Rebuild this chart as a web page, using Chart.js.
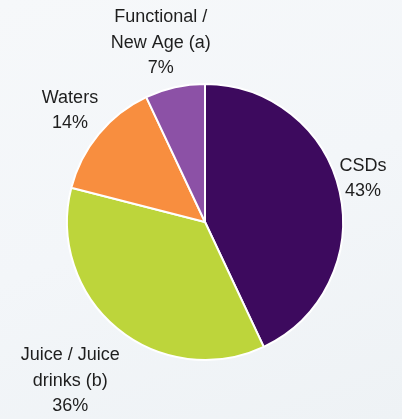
<!DOCTYPE html>
<html>
<head>
<meta charset="utf-8">
<script src="https://cdn.jsdelivr.net/npm/chart.js@4/dist/chart.umd.min.js"></script>
<style>
  html, body { margin: 0; padding: 0; }
  body {
    width: 402px; height: 419px; overflow: hidden;
    background: linear-gradient(160deg, #f6f8fa 0%, #f3f6f9 50%, #eef2f5 100%);
  }
  #wrap { position: relative; width: 402px; height: 419px; }
</style>
</head>
<body>
<div id="wrap"><canvas id="pie" width="402" height="419"></canvas></div>
<script>
// segment data, clockwise from 12 o'clock
const categories = ['CSDs', 'Juice / Juice drinks (b)', 'Waters', 'Functional / New Age (a)'];
const labelLines = [['CSDs'], ['Juice / Juice', 'drinks (b)'], ['Waters'], ['Functional /', 'New Age (a)']];
const shares = [43, 36, 14, 7];
const colors = ['#3d0a5e', '#bdd53b', '#f88e3f', '#8c51a6'];

// label placement: radial factor + small nudge
const labelRadius = [1.18, 1.51, 1.27, 1.34];
const labelNudge = [[-1, -8], [-2, -2], [0, 0], [-4, 1]];

const outsideLabels = {
  id: 'outsideLabels',
  afterDatasetsDraw(chart) {
    const ctx = chart.ctx;
    const meta = chart.getDatasetMeta(0);
    ctx.save();
    ctx.font = '18px "Liberation Sans", Arial, sans-serif';
    ctx.fillStyle = '#1e1e1e';
    ctx.textAlign = 'center';
    ctx.textBaseline = 'middle';
    const lineH = 25.5;
    meta.data.forEach((arc, i) => {
      const p = arc.getProps(['x', 'y', 'startAngle', 'endAngle', 'outerRadius'], true);
      const mid = (p.startAngle + p.endAngle) / 2;
      const d = p.outerRadius * labelRadius[i];
      const cx = p.x + Math.cos(mid) * d + labelNudge[i][0];
      const cy = p.y + Math.sin(mid) * d + labelNudge[i][1];
      const lines = labelLines[i].concat([shares[i] + '%']);
      const top = cy - (lines.length - 1) * lineH / 2;
      lines.forEach((t, j) => ctx.fillText(t, cx, top + j * lineH));
    });
    ctx.restore();
  }
};

new Chart(document.getElementById('pie').getContext('2d'), {
  type: 'pie',
  data: {
    labels: categories,
    datasets: [{
      data: shares,
      backgroundColor: colors,
      borderColor: '#ffffff',
      borderWidth: 2
    }]
  },
  options: {
    responsive: false,
    animation: false,
    layout: { padding: { left: 66, right: 58, top: 82, bottom: 57 } },
    plugins: {
      legend: { display: false },
      tooltip: { enabled: false }
    }
  },
  plugins: [outsideLabels]
});
</script>
</body>
</html>
